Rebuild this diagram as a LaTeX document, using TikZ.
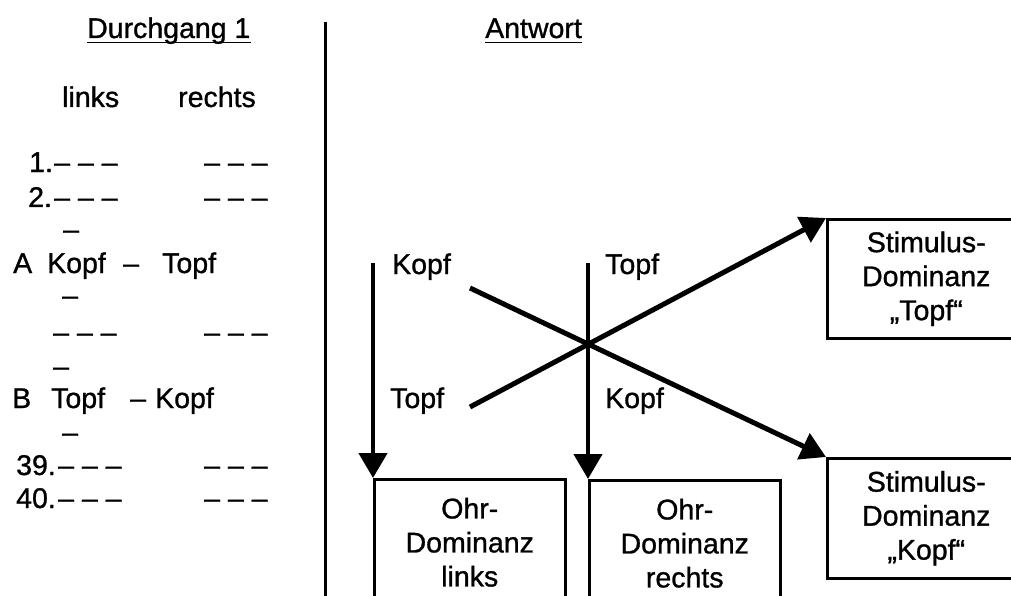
\documentclass[tikz,border=0pt]{standalone}
\usepackage{fontspec}
\setmainfont{Liberation Sans}
\newfontfamily\scanfont[FakeBold=1]{Liberation Sans}
\usetikzlibrary{arrows.meta}
\begin{document}
\begin{tikzpicture}[x=1pt,y=-1pt,
  txt/.style={inner sep=0pt, anchor=base west, font=\scanfont\fontsize{28.5}{34}\selectfont},
  result/.style={draw, line width=2.5pt, inner sep=0pt, align=center,
    font=\scanfont\fontsize{28.5}{34}\selectfont, anchor=north west},
  flow/.style={line width=4.5pt, -{Triangle[length=25pt,width=28pt]}},
  cross/.style={line width=5pt},
  rule/.style={line width=3pt}]
\clip (0,0) rectangle (1011,596);
\fill[white] (0,0) rectangle (1011,596);

% headings
\node[txt] (durch) at (87,38) {Durchgang 1};
\draw[line width=1.8pt] ([yshift=-4.5pt]durch.base west) -- ([yshift=-4.5pt]durch.base east);
\node[txt] (antw) at (485,38) {Antwort};
\draw[line width=1.8pt] ([yshift=-4.5pt]antw.base west) -- ([yshift=-4.5pt]antw.base east);

% divider
\coordinate (divtop) at (325,22);
\coordinate (divbot) at (325,600);
\draw[rule] (divtop) -- (divbot);

% left column: trial list
\node[txt] (links) at (62,107) {links};
\node[txt] (rechts) at (178,107) {rechts};

\node[txt] (n1) at (29,172) {1.};
\node[txt] (t1l) at (54,172) {– – –};
\node[txt] (t1r) at (204,172) {– – –};
\node[txt] (n2) at (28,207) {2.};
\node[txt] (t2l) at (54,207) {– – –};
\node[txt] (t2r) at (204,207) {– – –};
\node[txt] (d1) at (63,239) {–};
\node[txt] (ra) at (13,273) {A};
\node[txt] (rak) at (47,273) {Kopf};
\node[txt] (rad) at (123,273) {–};
\node[txt] (rat) at (162,273) {Topf};
\node[txt] (d2) at (62,305) {–};
\node[txt] (tml) at (53,342) {– – –};
\node[txt] (tmr) at (204,342) {– – –};
\node[txt] (d3) at (53,376) {–};
\node[txt] (rb) at (12,408) {B};
\node[txt] (rbt) at (51,408) {Topf};
\node[txt] (rbd) at (130,408) {–};
\node[txt] (rbk) at (155,408) {Kopf};
\node[txt] (d4) at (62,442) {–};
\node[txt] (n39) at (16,475) {39.};
\node[txt] (t39l) at (58,475) {– – –};
\node[txt] (t39r) at (204,475) {– – –};
\node[txt] (n40) at (16,508) {40.};
\node[txt] (t40l) at (58,508) {– – –};
\node[txt] (t40r) at (204,508) {– – –};

% right side: result boxes
\node[result, minimum width=191pt, minimum height=126pt] (ohrl) at (373,478)
  {Ohr-\\Dominanz\\links};
\node[result, minimum width=191pt, minimum height=126pt] (ohrr) at (588,479)
  {Ohr-\\Dominanz\\rechts};
\node[result, minimum width=198pt, minimum height=119pt] (stt) at (826,218)
  {Stimulus-\\Dominanz\\„Topf“};
\node[result, minimum width=198pt, minimum height=120pt] (stk) at (826,457)
  {Stimulus-\\Dominanz\\„Kopf“};

% stimulus labels
\node[txt] (lk) at (392,274) {Kopf};
\node[txt] (rt) at (605,274) {Topf};
\node[txt] (lt) at (390,408) {Topf};
\node[txt] (rk) at (605,408) {Kopf};

% connectors
\coordinate (lstart) at (373,263);
\coordinate (rstart) at (588,263);
\coordinate (kstart) at (470,288);
\coordinate (tstart) at (470,407);
\draw[flow] (lstart) -- (ohrl.north west);
\draw[flow] (rstart) -- (ohrr.north west);
\draw[flow, cross] (kstart) -- (stk.north west);
\draw[flow, cross] (tstart) -- (stt.north west);
\end{tikzpicture}
\end{document}
